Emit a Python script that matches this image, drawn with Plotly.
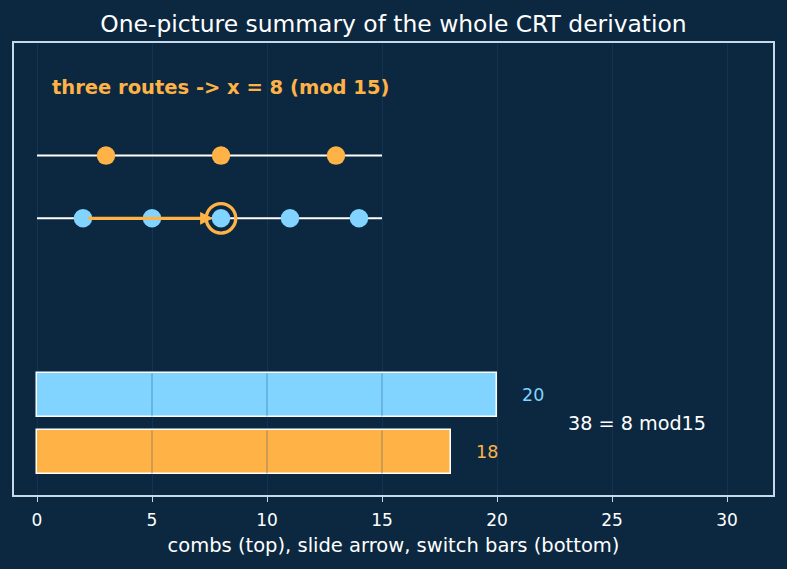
import plotly.graph_objects as go

# data
comb5_x = [3, 8, 13]          # x ≡ 3 (mod 5)
comb3_x = [2, 5, 8, 11, 14]   # x ≡ 2 (mod 3)
comb_span = [0, 15]
slide_start, slide_end = 2, 8
bar_labels = ["orange", "blue"]
bar_values = [18, 20]
solution = 8
result_text = "38 = 8 mod15"
route_text = "three routes -> x = 8 (mod 15)"
xticks = [0, 5, 10, 15, 20, 25, 30]

BG = "#0c2840"
ORANGE = "#ffb347"
BLUE = "#80d4ff"
FRAME = "#c5d9ea"
GRID = "rgba(25,75,115,0.45)"
BAR_W = 0.76

y_comb5, y_comb3 = 5.2, 4.1
y_bars = [0, 1]

fig = go.Figure()

# comb lines
for yc in (y_comb5, y_comb3):
    fig.add_trace(go.Scatter(x=comb_span, y=[yc, yc], mode="lines",
                             line=dict(color="white", width=2),
                             hoverinfo="skip", showlegend=False))

fig.add_trace(go.Scatter(x=comb5_x, y=[y_comb5]*len(comb5_x), mode="markers",
                         marker=dict(color=ORANGE, size=18.5, line=dict(width=0)),
                         showlegend=False))
fig.add_trace(go.Scatter(x=comb3_x, y=[y_comb3]*len(comb3_x), mode="markers",
                         marker=dict(color=BLUE, size=18.5, line=dict(width=0)),
                         showlegend=False))
# ring at solution
fig.add_trace(go.Scatter(x=[solution], y=[y_comb3], mode="markers",
                         marker=dict(color="rgba(0,0,0,0)", size=29.5,
                                     line=dict(color=ORANGE, width=3.3)),
                         showlegend=False))

# bars
bar_colors = [ORANGE, BLUE]
fig.add_trace(go.Bar(x=bar_values, y=y_bars, orientation="h", width=BAR_W,
                     marker=dict(color=bar_colors, line=dict(color="white", width=1.5)),
                     showlegend=False))

# grid lines visible on top of the bars
for v, yb in zip(bar_values, y_bars):
    for t in xticks:
        if 0 < t < v:
            fig.add_shape(type="line", xref="x", yref="y", x0=t, x1=t,
                          y0=yb - BAR_W / 2, y1=yb + BAR_W / 2,
                          line=dict(color=GRID, width=1), layer="above")

# slide arrow
fig.add_annotation(x=solution - 0.35, y=y_comb3, ax=slide_start + 0.15, ay=y_comb3,
                   xref="x", yref="y", axref="x", ayref="y", text="",
                   showarrow=True, arrowhead=2, arrowsize=0.8, arrowwidth=3.2,
                   arrowcolor=ORANGE)

# bar value labels
label_colors = [ORANGE, BLUE]
for v, yb, c in zip(bar_values, y_bars, label_colors):
    fig.add_annotation(x=v + 1, y=yb, text=str(v), showarrow=False,
                       xanchor="left", yanchor="middle",
                       font=dict(color=c, size=17.5, family="DejaVu Sans"))

fig.add_annotation(x=23, y=0.5, text=result_text, showarrow=False,
                   xanchor="left", yanchor="middle",
                   font=dict(color="white", size=19.2, family="DejaVu Sans"))

fig.add_annotation(x=0.57, y=6.4, text="<b>" + route_text + "</b>", showarrow=False,
                   xanchor="left", yanchor="middle",
                   font=dict(color=ORANGE, size=19.5, family="DejaVu Sans"))

fig.update_layout(
    width=787, height=569,
    paper_bgcolor=BG, plot_bgcolor=BG,
    margin=dict(l=14, r=14, t=43, b=74),
    title=dict(text="One-picture summary of the whole CRT derivation",
               x=0.5, xanchor="center", y=1 - 24/569, yanchor="middle",
               font=dict(color="white", size=23.4, family="DejaVu Sans")),
    font=dict(family="DejaVu Sans", color="white"),
    bargap=0,
)
fig.update_xaxes(range=[-1, 32], tickvals=xticks, ticks="outside", ticklen=5,
                 tickcolor=FRAME, tickfont=dict(color="white", size=17),
                 ticklabelstandoff=4,
                 showgrid=True, gridcolor="rgba(25,75,115,0.35)", gridwidth=1,
                 zeroline=False, showline=True, linecolor=FRAME, linewidth=1.5,
                 mirror=True,
                 title=dict(text="combs (top), slide arrow, switch bars (bottom)",
                            font=dict(color="white", size=19.5), standoff=9))
fig.update_yaxes(range=[-0.754, 7.175], showticklabels=False, ticks="",
                 showgrid=False, zeroline=False, showline=True, linecolor=FRAME,
                 linewidth=1.5, mirror=True)

fig.write_html("out.html")
